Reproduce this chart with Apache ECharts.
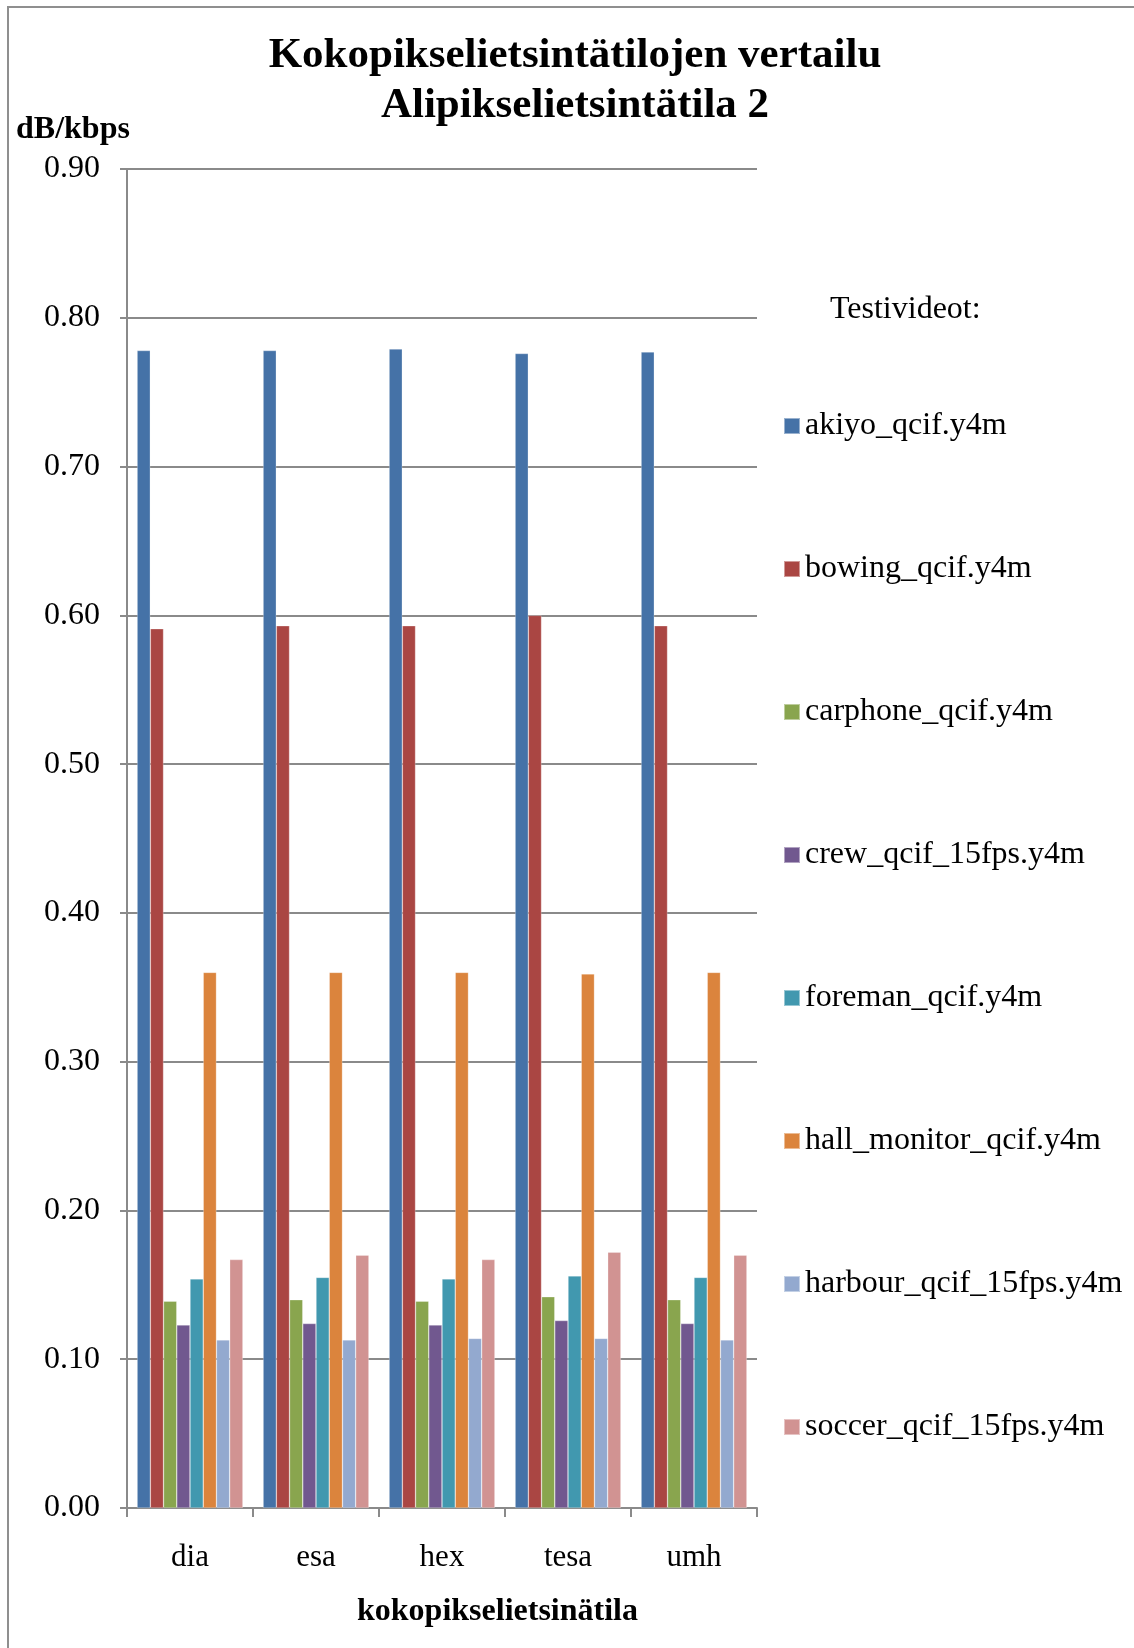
<!DOCTYPE html>
<html>
<head>
<meta charset="utf-8">
<script src="https://cdn.jsdelivr.net/npm/echarts@6/dist/echarts.min.js"></script>
<style>
  html, body { margin: 0; padding: 0; background: #fff; }
  #chart { width: 1134px; height: 1648px; }
</style>
</head>
<body>
<div id="chart"></div>
<script>
// Full-pixel search modes (x axis) and the dB/kbps ratio for each test video
const categories = ['dia', 'esa', 'hex', 'tesa', 'umh'];

const akiyo        = [0.778, 0.778, 0.779, 0.776, 0.777];
const bowing       = [0.591, 0.593, 0.593, 0.600, 0.593];
const carphone     = [0.139, 0.140, 0.139, 0.142, 0.140];
const crew         = [0.123, 0.124, 0.123, 0.126, 0.124];
const foreman      = [0.154, 0.155, 0.154, 0.156, 0.155];
const hallMonitor  = [0.360, 0.360, 0.360, 0.359, 0.360];
const harbour      = [0.113, 0.113, 0.114, 0.114, 0.113];
const soccer       = [0.167, 0.170, 0.167, 0.172, 0.170];

const seriesNames = [
  'akiyo_qcif.y4m', 'bowing_qcif.y4m', 'carphone_qcif.y4m', 'crew_qcif_15fps.y4m',
  'foreman_qcif.y4m', 'hall_monitor_qcif.y4m', 'harbour_qcif_15fps.y4m', 'soccer_qcif_15fps.y4m'
];
const seriesValues = [akiyo, bowing, carphone, crew, foreman, hallMonitor, harbour, soccer];
const seriesColors = ['#4572A7', '#AA4643', '#89A54E', '#71588F', '#4198AF', '#DB843D', '#93A9CF', '#D19392'];

const yTicks = { min: 0, max: 0.9, interval: 0.1 };

const FONT = '"Liberation Serif", "Times New Roman", serif';
const GRID_COLOR = '#8a8a8a';

const chart = echarts.init(document.getElementById('chart'), null, { renderer: 'canvas' });

const option = {
  backgroundColor: '#ffffff',
  animation: false,
  color: seriesColors,
  title: {
    text: 'Kokopikselietsintätilojen vertailu\nAlipikselietsintätila 2',
    left: 570,
    textAlign: 'center',
    top: 26,
    textStyle: {
      fontFamily: FONT,
      fontSize: 43,
      fontWeight: 'bold',
      color: '#000',
      lineHeight: 50
    }
  },
  legend: {
    orient: 'vertical',
    left: 783,
    top: 410,
    padding: 0,
    itemWidth: 16,
    itemHeight: 16,
    itemGap: 111,
    icon: 'rect',
    data: seriesNames,
    textStyle: {
      fontFamily: FONT,
      fontSize: 32,
      lineHeight: 30,
      color: '#000'
    }
  },
  grid: {
    left: 127,
    right: 377,
    top: 169,
    bottom: 140,
    containLabel: false
  },
  xAxis: {
    type: 'category',
    data: categories,
    axisLine: { lineStyle: { color: GRID_COLOR, width: 2 } },
    axisTick: { show: true, length: 9, lineStyle: { color: GRID_COLOR, width: 2 } },
    axisLabel: {
      margin: 34,
      fontFamily: FONT,
      fontSize: 31,
      lineHeight: 31,
      color: '#000'
    },
    splitLine: { show: false }
  },
  yAxis: {
    type: 'value',
    min: yTicks.min,
    max: yTicks.max,
    interval: yTicks.interval,
    axisLine: { show: true, lineStyle: { color: GRID_COLOR, width: 2 } },
    axisTick: { show: true, length: 7, lineStyle: { color: GRID_COLOR, width: 2 } },
    axisLabel: {
      margin: 27,
      fontFamily: FONT,
      fontSize: 32,
      color: '#000',
      formatter: v => v.toFixed(2)
    },
    splitLine: { show: true, lineStyle: { color: GRID_COLOR, width: 2 } }
  },
  series: seriesNames.map((name, i) => ({
    name: name,
    type: 'bar',
    data: seriesValues[i],
    barGap: '0%',
    barCategoryGap: '16%',
    itemStyle: {
      color: seriesColors[i],
      borderColor: 'rgba(255,255,255,0.45)',
      borderWidth: 0.6
    },
    emphasis: { disabled: true }
  })),
  graphic: [
    {
      type: 'rect',
      silent: true,
      shape: { x: 8, y: 7, width: 1200, height: 1700 },
      style: { fill: 'none', stroke: '#8f8f8f', lineWidth: 2 }
    },
    {
      type: 'text',
      left: 16,
      top: 114,
      style: {
        text: 'dB/kbps',
        font: 'bold 32px ' + FONT,
        fill: '#000'
      }
    },
    {
      type: 'text',
      left: 830,
      top: 294,
      style: {
        text: 'Testivideot:',
        font: '32px ' + FONT,
        fill: '#000'
      }
    },
    {
      type: 'text',
      left: 357,
      top: 1596,
      style: {
        text: 'kokopikselietsinätila',
        font: 'bold 32px ' + FONT,
        fill: '#000'
      }
    }
  ]
};

chart.setOption(option);
</script>
</body>
</html>
